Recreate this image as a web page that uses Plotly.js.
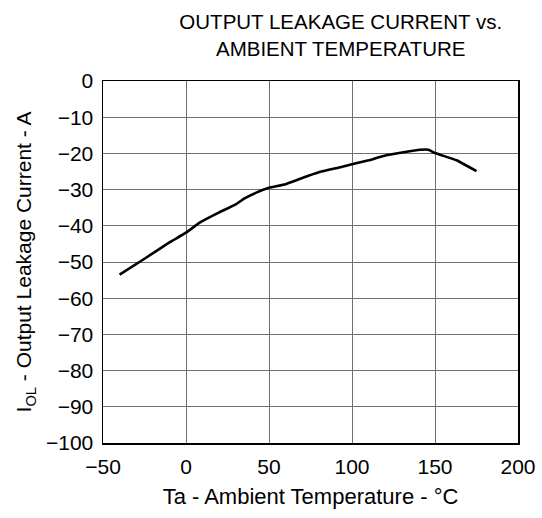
<!DOCTYPE html>
<html>
<head>
<meta charset="utf-8">
<script src="https://cdn.plot.ly/plotly-3.0.1.min.js"></script>
<style>html,body{margin:0;padding:0;background:#fff;}#chart{width:542px;height:518px;}</style>
</head>
<body>
<div id="chart"></div>
<script>
const temperature = [-40, -25, -10, 0, 8, 20, 30, 35, 42, 50, 60, 70, 80, 93, 100, 110, 119, 131, 141, 146, 150, 163, 175];
const leakageCurrent = [-53.5, -49.1, -44.6, -41.9, -39.2, -36.3, -34.1, -32.5, -30.9, -29.5, -28.5, -26.8, -25.2, -23.8, -23.0, -21.9, -20.7, -19.7, -19.0, -19.0, -19.9, -21.9, -24.9];
const xTicks = [-50, 0, 50, 100, 150, 200];
const yTicks = [0, -10, -20, -30, -40, -50, -60, -70, -80, -90, -100];

const font = {family: 'Liberation Sans, Arial, sans-serif', color: '#000'};

Plotly.newPlot('chart', [{
  x: temperature,
  y: leakageCurrent,
  type: 'scatter',
  mode: 'lines',
  line: {color: '#000', width: 2.6, shape: 'spline', smoothing: 0.3},
  hoverinfo: 'skip'
}], {
  width: 542,
  height: 518,
  margin: {l: 103, r: 24, t: 81, b: 75},
  paper_bgcolor: '#fff',
  plot_bgcolor: '#fff',
  showlegend: false,
  font: Object.assign({size: 20}, font),
  title: {
    text: 'OUTPUT LEAKAGE CURRENT vs.<br>AMBIENT TEMPERATURE',
    font: Object.assign({size: 20.5}, font),
    x: 310.5 / 542, xanchor: 'center', xref: 'paper',
    y: 1 - 29 / 518, yanchor: 'middle', yref: 'container'
  },
  xaxis: {
    range: [-50, 200],
    tickvals: xTicks,
    ticks: '',
    ticklabelstandoff: 4,
    showgrid: true, gridcolor: '#707070', gridwidth: 1,
    zeroline: false,
    showline: true, linecolor: '#000', linewidth: 1.5, mirror: true,
    tickfont: Object.assign({size: 21}, font),
    title: {text: 'Ta - Ambient Temperature - °C', font: Object.assign({size: 22}, font), standoff: 12},
    automargin: false,
    fixedrange: true
  },
  yaxis: {
    range: [-100, 0],
    tickvals: yTicks,
    ticks: '',
    ticklabelstandoff: 4,
    showgrid: true, gridcolor: '#707070', gridwidth: 1,
    zeroline: false,
    showline: true, linecolor: '#000', linewidth: 1.5, mirror: true,
    tickfont: Object.assign({size: 21}, font),
    title: {text: 'I<sub>OL</sub> - Output Leakage Current - A', font: Object.assign({size: 21}, font), standoff: 8},
    automargin: false,
    fixedrange: true
  }
}, {displayModeBar: false, staticPlot: true});
</script>
</body>
</html>
